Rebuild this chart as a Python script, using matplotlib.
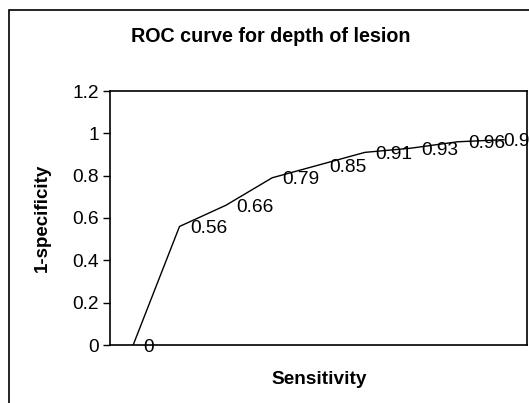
import matplotlib
matplotlib.use("Agg")
import matplotlib.pyplot as plt
from matplotlib.patches import Rectangle

plt.rcParams['font.family'] = ['Liberation Sans', 'DejaVu Sans']

# ROC points (category order as in the sheet)
points = [1, 2, 3, 4, 5, 6, 7, 8, 9]
values = [0, 0.56, 0.66, 0.79, 0.85, 0.91, 0.93, 0.96, 0.97]
labels = ["0", "0.56", "0.66", "0.79", "0.85", "0.91", "0.93", "0.96", "0.97"]

W, H = 529, 403
fig = plt.figure(figsize=(W / 100, H / 100), dpi=100)

# outer chart frame
fig.patches.append(Rectangle((9 / W, -0.05), 1.1, (H - 10) / H + 0.05,
                             transform=fig.transFigure, fill=False,
                             edgecolor="black", linewidth=1.2))

ax = fig.add_axes([110 / W, (H - 345) / H, (527 - 110) / W, (345 - 91) / H])
ax.plot(points, values, color="black", linewidth=1)
for i, (xp, yp, lab) in enumerate(zip(points, values, labels)):
    # excel pushes the last label back inside the chart area
    dx = 7.5 if i < len(points) - 1 else -0.5
    ax.annotate(lab, (xp, yp), xytext=(dx, -1.5), textcoords="offset points",
                ha="left", va="center", fontsize=13.8, clip_on=False)

ax.set_xlim(0.5, 9.5)
ax.set_ylim(0, 1.2)
ax.set_yticks([0, 0.2, 0.4, 0.6, 0.8, 1.0, 1.2])
ax.set_yticklabels(["0", "0.2", "0.4", "0.6", "0.8", "1", "1.2"])
ax.set_xticks([])
ax.tick_params(axis="y", direction="out", length=5, width=1, labelsize=13.8, pad=3)
for s in ax.spines.values():
    s.set_linewidth(1.2)

fig.text(271 / W, 1 - 36 / H, "ROC curve for depth of lesion", ha="center",
         va="center", fontsize=14.2, fontweight="bold")
fig.text(42 / W, 1 - 218 / H, "1-specificity", ha="center", va="center",
         rotation=90, fontsize=13.5, fontweight="bold")
fig.text(319 / W, 1 - 379 / H, "Sensitivity", ha="center", va="center",
         fontsize=13.7, fontweight="bold")

fig.savefig("out.png", dpi=100)
